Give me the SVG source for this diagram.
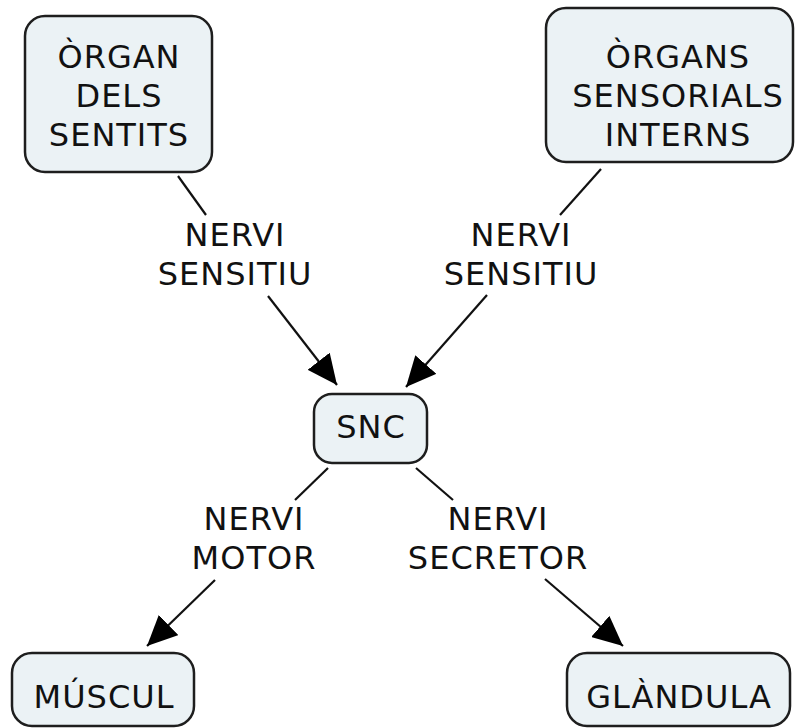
<svg xmlns="http://www.w3.org/2000/svg" width="795" height="728" viewBox="0 0 795 728">
<style>
.n rect{fill:#ebf2f5;stroke:#1e1e1e;stroke-width:2.5}
text{font-family:"DejaVu Sans",Verdana,sans-serif;font-size:32px;fill:#111;text-anchor:middle;letter-spacing:1px}
.c line{stroke:#111;stroke-width:2.2}
</style>
<defs>
<marker id="ah" markerUnits="userSpaceOnUse" markerWidth="32" markerHeight="28" refX="30" refY="14" orient="auto">
<path d="M0,0 L30,14 L0,28 Z" fill="#000"/>
</marker>
</defs>
<rect width="795" height="728" fill="#fff"/>
<g class="c">
<line x1="178" y1="176" x2="206" y2="215"/>
<line x1="268" y1="296" x2="337" y2="385" marker-end="url(#ah)"/>
<line x1="601" y1="169" x2="560" y2="215"/>
<line x1="487" y1="295" x2="406" y2="387" marker-end="url(#ah)"/>
<line x1="328" y1="468" x2="295" y2="500"/>
<line x1="215" y1="580" x2="147" y2="646" marker-end="url(#ah)"/>
<line x1="416" y1="468" x2="453" y2="500"/>
<line x1="545" y1="579" x2="623" y2="646" marker-end="url(#ah)"/>
<text x="235" y="246">NERVI</text>
<text x="235" y="285">SENSITIU</text>
<text x="521" y="246">NERVI</text>
<text x="521" y="285">SENSITIU</text>
<text x="254" y="530">NERVI</text>
<text x="254" y="569">MOTOR</text>
<text x="498" y="530">NERVI</text>
<text x="498" y="569">SECRETOR</text>
</g>
<g id="organ" class="n">
<rect x="25" y="16" width="187" height="156" rx="20"/>
<text x="119" y="68">ÒRGAN</text>
<text x="119" y="107">DELS</text>
<text x="119" y="146">SENTITS</text>
</g>
<g id="organs" class="n">
<rect x="546" y="8" width="247" height="154" rx="20"/>
<text x="678" y="68">ÒRGANS</text>
<text x="678" y="107">SENSORIALS</text>
<text x="678" y="146">INTERNS</text>
</g>
<g id="snc" class="n">
<rect x="314" y="394" width="113" height="69" rx="18"/>
<text x="371" y="438">SNC</text>
</g>
<g id="muscul" class="n">
<rect x="12" y="653" width="182" height="73" rx="20"/>
<text x="104" y="708">MÚSCUL</text>
</g>
<g id="glandula" class="n">
<rect x="567" y="653" width="223" height="73" rx="20"/>
<text x="679" y="708">GLÀNDULA</text>
</g>
</svg>
